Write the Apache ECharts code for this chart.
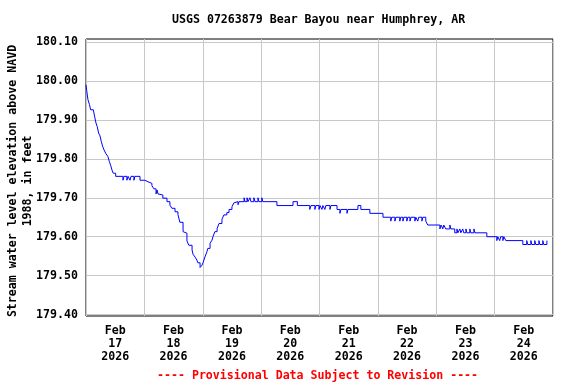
<!DOCTYPE html>
<html><head><meta charset="utf-8">
<script src="https://cdn.jsdelivr.net/npm/echarts@6/dist/echarts.min.js"></script>
<style>html,body{margin:0;padding:0;background:#fff}#c{width:576px;height:384px}</style>
</head><body><div id="c"></div>
<script>
const titleText = 'USGS 07263879 Bear Bayou near Humphrey, AR';
const yAxisName = 'Stream water level elevation above NAVD\n1988, in feet';
const footerText = '---- Provisional Data Subject to Revision ----';
const dayLabels = ['Feb\n17\n2026','Feb\n18\n2026','Feb\n19\n2026','Feb\n20\n2026','Feb\n21\n2026','Feb\n22\n2026','Feb\n23\n2026','Feb\n24\n2026'];
const dayTicks = [0,24,48,72,96,120,144,168,192];
const labelHours = [12,36,60,84,108,132,156,180];
const yTicks = [179.40,179.50,179.60,179.70,179.80,179.90,180.00,180.10];
// hours since Feb 17 2026 00:00
const hours = [0.0,0.3,0.8,1.4,1.9,3.0,3.6,4.1,4.6,5.2,5.75,6.3,6.9,7.4,8.2,9.0,9.6,10.2,10.7,11.2,12.2,
15.2,15.6,16.8,17.3,18.1,18.5,19.7,20.1,22.2,24.2,25.5,27.1,27.9,28.8,29.2,29.6,30.4,31.6,33.3,34.5,35.3,36.6,37.8,
38.6,39.9,40.7,41.5,42.3,43.6,44.0,44.8,45.6,46.0,46.9,47.7,48.1,48.9,49.7,50.1,51.0,51.8,52.2,53.0,53.9,54.7,55.9,56.7,57.9,58.8,60.0,60.8,61.6,62.5,62.9,
65.0,65.3,66.2,66.6,67.4,67.8,69.0,69.5,70.7,71.1,72.3,72.7,78.5,85.1,86.9,
92.0,92.5,94.1,94.5,95.8,96.2,97.0,97.4,98.2,98.6,100.3,100.7,103.2,104.4,104.8,107.3,107.7,111.8,113.0,116.7,122.1,
125.3,125.7,127.0,127.4,129.0,129.4,130.3,130.7,131.9,132.3,133.2,133.6,135.2,135.6,136.4,136.8,138.1,138.5,139.7,140.5,
145.5,146.0,146.7,147.1,147.9,149.6,150.0,151.6,152.5,152.9,153.7,154.1,154.9,155.3,156.2,156.6,157.8,158.2,159.5,159.9,164.8,
168.9,169.3,170.1,170.5,171.4,171.8,172.6,179.6,181.2,181.6,182.9,183.3,184.5,184.9,186.2,186.6,187.8,188.2,189.5];
const elev = [179.99,179.975,179.952,179.94,179.926,179.921,179.907,179.892,179.883,179.866,179.859,179.844,179.831,179.823,179.813,179.806,179.793,179.782,179.771,179.763,179.755,
179.745,179.755,179.745,179.755,179.745,179.755,179.745,179.755,179.745,179.741,179.737,179.731,179.723,179.71,179.72,179.71,179.707,179.699,179.69,179.681,179.673,179.664,179.657,
179.637,179.613,179.609,179.589,179.578,179.566,179.555,179.548,179.54,179.533,179.521,179.527,179.533,179.548,179.561,179.57,179.583,179.591,179.60,179.613,179.621,179.634,179.645,179.656,179.662,179.67,179.677,179.687,179.69,179.682,179.69,
179.70,179.69,179.70,179.69,179.70,179.69,179.70,179.69,179.70,179.69,179.70,179.69,179.68,179.69,179.68,
179.67,179.68,179.67,179.68,179.67,179.68,179.67,179.68,179.67,179.68,179.67,179.68,179.67,179.66,179.67,179.66,179.67,179.68,179.67,179.66,179.65,
179.64,179.65,179.64,179.65,179.64,179.65,179.64,179.65,179.64,179.65,179.64,179.65,179.64,179.65,179.64,179.65,179.64,179.65,179.64,179.63,
179.62,179.63,179.62,179.63,179.62,179.63,179.62,179.61,179.62,179.61,179.62,179.61,179.62,179.61,179.62,179.61,179.62,179.61,179.62,179.61,179.60,
179.59,179.60,179.59,179.60,179.59,179.60,179.59,179.58,179.59,179.58,179.59,179.58,179.59,179.58,179.59,179.58,179.59,179.58,179.59];

const font = 'DejaVu Sans Mono';
const chart = echarts.init(document.getElementById('c'), null, {renderer:'canvas'});
chart.setOption({
  animation: false,
  backgroundColor: '#fff',
  title: [
    {text: titleText, left: 172, top: 14, padding: 0, textStyle: {fontFamily: font, fontWeight: 'bold', fontSize: 11.6, color: '#000'}},
    {text: footerText, left: 157, top: 370, padding: 0, textStyle: {fontFamily: font, fontWeight: 'bold', fontSize: 11.6, color: '#ff0000'}}
  ],
  graphic: [{
    type: 'text', x: 20, y: 181, rotation: Math.PI / 2,
    style: {text: yAxisName, fontFamily: font, fontWeight: 'bold', fontSize: 11.6, lineHeight: 15,
      align: 'center', verticalAlign: 'middle', fill: '#000'}
  }],
  grid: {left: 86, right: 23, top: 39, bottom: 68, show: true, borderColor: '#000', borderWidth: 1, backgroundColor: 'transparent',
    containLabel: false, outerBoundsMode: 'none'},
  xAxis: {
    type: 'value', min: 0, max: 192, interval: 24,
    axisLine: {show: false}, axisTick: {show: false, customValues: dayTicks},
    splitLine: {show: true, lineStyle: {color: '#c8c8c8', width: 1}},
    axisLabel: {customValues: labelHours, formatter: v => dayLabels[Math.round((v - 12) / 24)] || '',
      fontFamily: font, fontWeight: 'bold', fontSize: 11.6, color: '#000', lineHeight: 13, margin: 8}
  },
  yAxis: {
    type: 'value', min: 179.3964, max: 180.1077,
    axisLine: {show: false}, axisTick: {show: false, customValues: yTicks},
    splitLine: {show: true, lineStyle: {color: '#c8c8c8', width: 1}},
    axisLabel: {customValues: yTicks, formatter: v => v.toFixed(2), fontFamily: font, fontWeight: 'bold', fontSize: 11.6, color: '#000', margin: 8}
  },
  series: [{
    type: 'line', step: 'end', showSymbol: false, symbol: 'none',
    lineStyle: {color: '#0000ff', width: 1},
    data: hours.map((h, i) => [h, elev[i]])
  }]
});
</script></body></html>
